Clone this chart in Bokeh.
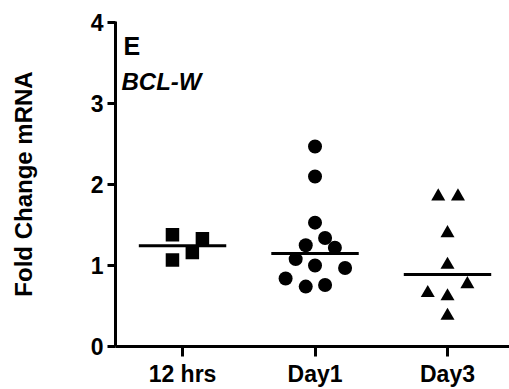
import numpy as np
from bokeh.plotting import figure
from bokeh.models import Range1d, FixedTicker, Label, ColumnDataSource
from bokeh.embed import file_html
from bokeh.resources import INLINE

# ---- data ----
categories = ["12 hrs", "Day1", "Day3"]
vals_12h = [1.38, 1.33, 1.16, 1.07]
spread_12h = [-0.076, 0.15, 0.074, -0.076]
vals_day1 = [2.47, 2.10, 1.53, 1.34, 1.25, 1.22, 1.08, 1.00, 0.97, 0.84, 0.74, 0.76]
spread_day1 = [0.0, 0.0, 0.0, 0.076, -0.07, 0.15, -0.146, 0.0, 0.227, -0.222, -0.07, 0.076]
vals_day3 = [1.855, 1.855, 1.40, 1.01, 0.77, 0.66, 0.62, 0.38]
spread_day3 = [-0.07, 0.079, 0.0, 0.0, 0.15, -0.149, 0.0, 0.0]
y_ticks = [0, 1, 2, 3, 4]

FONT = "Liberation Sans"

p = figure(width=509, height=389, output_backend="svg", toolbar_location=None,
           x_range=Range1d(0.494, 3.468), y_range=Range1d(0, 4.015),
           min_border_left=115, min_border_right=0, min_border_top=21, min_border_bottom=41)
p.outline_line_color = None
p.xgrid.visible = False
p.ygrid.visible = False
p.background_fill_color = "white"
p.border_fill_color = "white"

groups = [
    (vals_12h, spread_12h, "square"),
    (vals_day1, spread_day1, "circle"),
    (vals_day3, spread_day3, "triangle"),
]
for i, (vals, spread, marker) in enumerate(groups):
    pos = i + 1
    xs = [pos + s for s in spread]
    src = ColumnDataSource(dict(x=xs, y=vals))
    size = 14 if marker != "square" else 13.5
    p.scatter("x", "y", source=src, marker=marker, size=size,
              fill_color="black", line_color="black", line_width=0)
    med = float(np.median(vals))
    p.segment(x0=[pos - 0.33], y0=[med], x1=[pos + 0.33], y1=[med],
              line_color="black", line_width=3)

# axes
for ax in (p.xaxis[0], p.yaxis[0]):
    ax.axis_line_width = 3
    ax.axis_line_color = "black"
    ax.major_tick_line_width = 3
    ax.major_tick_line_color = "black"
    ax.minor_tick_line_color = None
    ax.major_tick_in = 0
    ax.major_label_text_font = FONT
    ax.major_label_text_font_style = "bold"
    ax.major_label_text_color = "black"

p.xaxis.ticker = FixedTicker(ticks=[1, 2, 3])
p.xaxis.major_label_overrides = {i + 1: c for i, c in enumerate(categories)}
p.xaxis.major_tick_out = 10
p.xaxis.major_label_standoff = 4
p.xaxis.major_label_text_font_size = "23px"

p.yaxis.ticker = FixedTicker(ticks=y_ticks)
p.yaxis.major_tick_out = 8
p.yaxis.major_label_standoff = 4
p.yaxis.major_label_text_font_size = "23px"
p.yaxis.axis_label = "Fold Change mRNA"
p.yaxis.axis_label_text_font = FONT
p.yaxis.axis_label_text_font_style = "bold"
p.yaxis.axis_label_text_font_size = "24px"
p.yaxis.axis_label_text_color = "black"
p.yaxis.axis_label_standoff = 51

p.add_layout(Label(x=8, y=301, x_units="screen", y_units="screen", text="E",
                   text_font=FONT, text_font_style="bold", text_font_size="25px",
                   text_color="black", text_baseline="alphabetic"))
p.add_layout(Label(x=6, y=265, x_units="screen", y_units="screen", text="BCL-W",
                   text_font=FONT, text_font_style="bold italic", text_font_size="24px",
                   text_color="black", text_baseline="alphabetic"))

open("out.html", "w").write(file_html(p, INLINE))
